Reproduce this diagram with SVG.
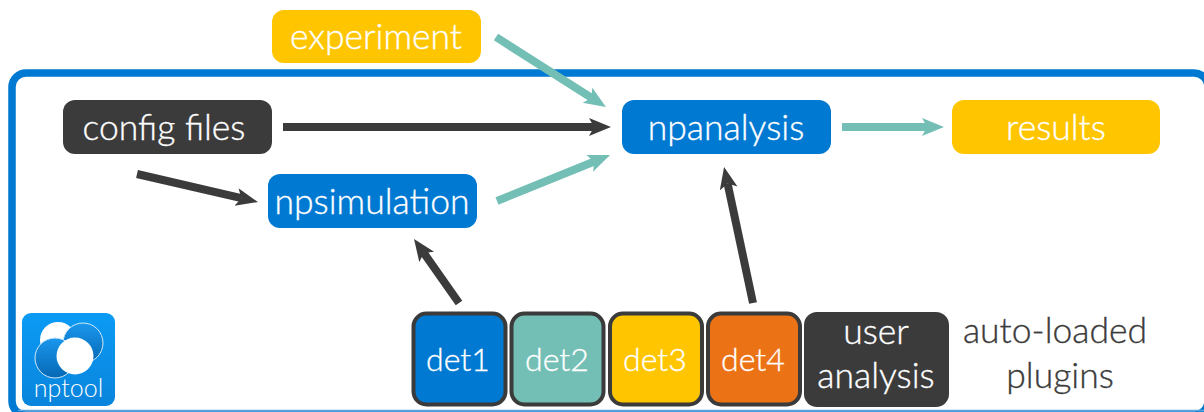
<svg xmlns="http://www.w3.org/2000/svg" width="1204" height="412" viewBox="0 0 1204 412">
<defs>
<linearGradient id="logoBg" x1="0" y1="0" x2="0" y2="1"><stop offset="0" stop-color="#0a9bf5"/><stop offset="1" stop-color="#0a84dc"/></linearGradient>
<linearGradient id="disc" x1="0" y1="0" x2="0" y2="1"><stop offset="0" stop-color="#1a97ee"/><stop offset="1" stop-color="#0668b4"/></linearGradient>
<marker id="ah-d" markerUnits="userSpaceOnUse" markerWidth="24" markerHeight="20" refX="5" refY="9" orient="auto"><path d="M0 0L22 9L0 18L5 9Z" fill="#3b3b3b"/></marker>
<marker id="ah-t" markerUnits="userSpaceOnUse" markerWidth="24" markerHeight="20" refX="5" refY="9" orient="auto"><path d="M0 0L22 9L0 18L5 9Z" fill="#73beb5"/></marker>
</defs>
<style>
text{font-family:"Lato","Noto Sans",sans-serif;font-weight:300;fill:#fff;stroke:#fff;stroke-width:.35px;font-size:35.500px;text-anchor:middle}
.dt{font-size:32px}
.dark{fill:#3b3b3b;stroke:#3b3b3b}
.logo{font-size:25px;stroke:none}
.box{stroke:none}
.det{stroke:#3b3b3b;stroke-width:4}
.d{stroke:#3b3b3b;stroke-width:8;fill:none;marker-end:url(#ah-d)}
.t{stroke:#73beb5;stroke-width:8;fill:none;marker-end:url(#ah-t)}
</style>
<rect width="1204" height="412" fill="#fff"/>
<g id="frame">
<rect x="12" y="73" width="1196" height="342" rx="14" fill="none" stroke="#0079d2" stroke-width="7.500"/>
<path d="M18 410.500H1204" stroke="#5ba4dc" stroke-width="1.500" fill="none"/>
</g>
<g id="connectors">
<path class="t" d="M496 37L591.600 97.900"/>
<path class="d" d="M283 127L594 127"/>
<path class="t" d="M497 201L594.300 161.500"/>
<path class="d" d="M137 174L241.400 198.200"/>
<path class="d" d="M459 303L423.800 252.900"/>
<path class="d" d="M753 303L727.600 183.600"/>
<path class="t" d="M842 127L927 127"/>
</g>
<g id="experiment"><rect class="box" x="272" y="10" width="209" height="53" rx="12" fill="#ffc600"/><text x="376" y="49">experiment</text></g>
<g id="config-files"><rect class="box" x="63" y="100" width="209" height="54" rx="12" fill="#3b3b3b"/><text x="164" y="140">config files</text></g>
<g id="npanalysis"><rect class="box" x="622" y="100" width="209" height="54" rx="12" fill="#0079d2"/><text x="726" y="140">npanalysis</text></g>
<g id="results"><rect class="box" x="952" y="100" width="208" height="54" rx="12" fill="#ffc600"/><text x="1056" y="140">results</text></g>
<g id="npsimulation"><rect class="box" x="268" y="174" width="209" height="54" rx="12" fill="#0079d2"/><text x="372" y="214">npsimulation</text></g>
<g id="det1"><rect class="det" x="413.500" y="313.500" width="92" height="91" rx="13" fill="#0079d2"/><text class="dt" x="458" y="371">det1</text></g>
<g id="det2"><rect class="det" x="511.500" y="313.500" width="92" height="91" rx="13" fill="#73beb5"/><text class="dt" x="557" y="371">det2</text></g>
<g id="det3"><rect class="det" x="610" y="313.500" width="92" height="91" rx="13" fill="#ffc600"/><text class="dt" x="655" y="371">det3</text></g>
<g id="det4"><rect class="det" x="708" y="313.500" width="92" height="91" rx="13" fill="#ec7216"/><text class="dt" x="753" y="371">det4</text></g>
<g id="user-analysis"><rect class="box" x="804" y="312" width="145" height="95" rx="13" fill="#3b3b3b"/><text x="876" y="344">user</text><text x="876" y="388">analysis</text></g>
<g id="plugins-label"><text class="dark" x="1055" y="343">auto-loaded</text><text class="dark" x="1060" y="388">plugins</text></g>
<g id="nptool-logo">
<rect x="22" y="313" width="93" height="93" rx="9" fill="url(#logoBg)"/>
<circle cx="58" cy="340" r="18" fill="#fff"/>
<circle cx="83" cy="343" r="20" fill="url(#disc)" stroke="#cfe8fa" stroke-width="1"/>
<circle cx="55" cy="358" r="20" fill="url(#disc)" stroke="#cfe8fa" stroke-width="1"/>
<circle cx="75" cy="356" r="18.500" fill="#fff"/>
<text class="logo" x="68.500" y="397">nptool</text>
</g>
</svg>
